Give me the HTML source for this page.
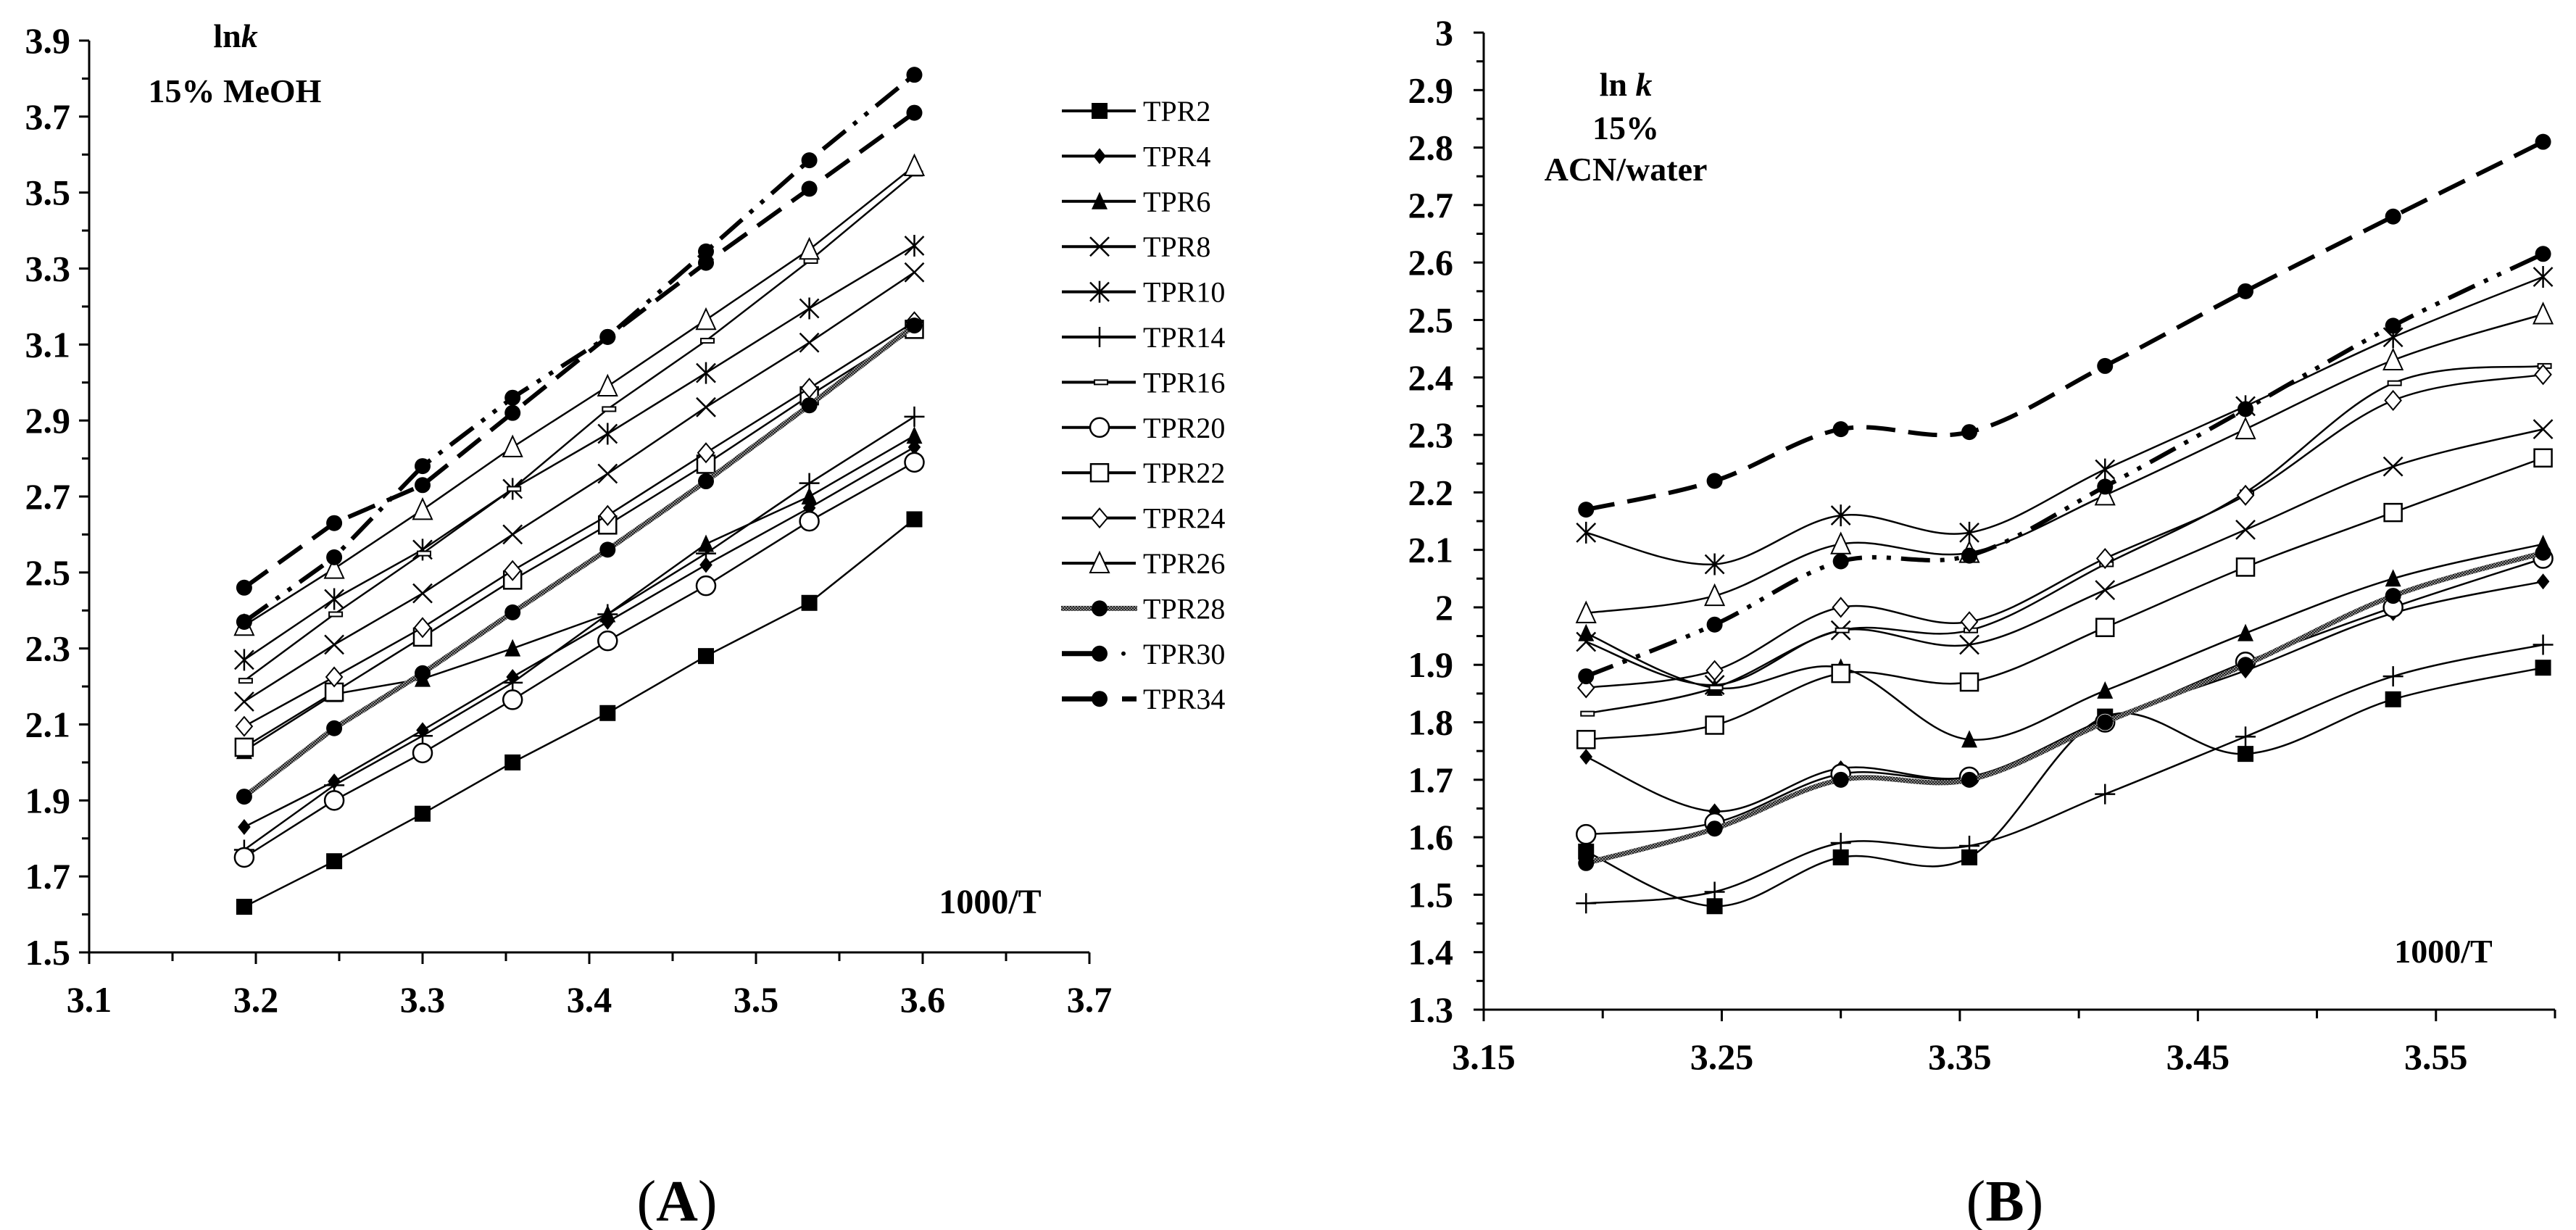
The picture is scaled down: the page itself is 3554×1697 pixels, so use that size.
<!DOCTYPE html>
<html><head><meta charset="utf-8"><style>
html,body{margin:0;padding:0;background:#fff;}
svg{display:block;}
text{font-family:"Liberation Serif",serif;}
</style></head><body>
<svg id="chart" width="3554" height="1697" viewBox="0 0 3554 1697" xmlns="http://www.w3.org/2000/svg">
<defs>
<pattern id="hatch" width="4" height="4" patternUnits="userSpaceOnUse"><rect width="4" height="4" fill="#888"/><rect width="2" height="2" fill="#222"/><rect x="2" y="2" width="2" height="2" fill="#222"/></pattern>
</defs>
<g id="panelA"></g>
<g id="panelB"></g>
<g id="legend"></g>
<text x="325" y="65" font-size="46" font-weight="bold" text-anchor="middle">ln<tspan font-style="italic">k</tspan></text>
<text x="324" y="141" font-size="46" font-weight="bold" text-anchor="middle">15% MeOH</text>
<text x="1366" y="1260" font-size="48" font-weight="bold" text-anchor="middle">1000/T</text>
<text x="2243" y="132" font-size="46" font-weight="bold" text-anchor="middle">ln <tspan font-style="italic">k</tspan></text>
<text x="2243" y="192" font-size="46" font-weight="bold" text-anchor="middle">15%</text>
<text x="2243" y="249" font-size="46" font-weight="bold" text-anchor="middle">ACN/water</text>
<text x="3371" y="1328" font-size="46" font-weight="bold" text-anchor="middle">1000/T</text>
<text x="934" y="1684" font-size="80" text-anchor="middle">(<tspan font-weight="bold">A</tspan>)</text>
<text x="2766" y="1684" font-size="80" text-anchor="middle">(<tspan font-weight="bold">B</tspan>)</text>
</svg>
<script>
const NS="http://www.w3.org/2000/svg";
const xVals=[3.193,3.247,3.300,3.354,3.411,3.470,3.532,3.595];
const seriesNames=["TPR2","TPR4","TPR6","TPR8","TPR10","TPR14","TPR16","TPR20","TPR22","TPR24","TPR26","TPR28","TPR30","TPR34"];
const markers=["square","diamond","triangle","x","star","plus","dash","circle","osquare","odiamond","otriangle","dot","dot","dot"];
// Panel A values (15% MeOH)
const aTPR2=[1.62,1.74,1.865,2.00,2.13,2.28,2.42,2.64];
const aTPR4=[1.83,1.95,2.085,2.225,2.37,2.52,2.67,2.83];
const aTPR6=[2.03,2.18,2.22,2.30,2.39,2.575,2.70,2.86];
const aTPR8=[2.16,2.31,2.445,2.60,2.76,2.935,3.105,3.29];
const aTPR10=[2.27,2.43,2.56,2.72,2.865,3.025,3.195,3.36];
const aTPR14=[1.77,1.94,2.07,2.21,2.39,2.55,2.735,2.91];
const aTPR16=[2.215,2.39,2.55,2.72,2.93,3.11,3.32,3.55];
const aTPR20=[1.75,1.90,2.025,2.165,2.32,2.465,2.635,2.79];
const aTPR22=[2.04,2.185,2.33,2.48,2.625,2.785,2.965,3.14];
const aTPR24=[2.095,2.225,2.355,2.505,2.65,2.815,2.985,3.16];
const aTPR26=[2.36,2.51,2.665,2.83,2.99,3.165,3.35,3.57];
const aTPR28=[1.91,2.09,2.235,2.395,2.56,2.74,2.94,3.15];
const aTPR30=[2.37,2.54,2.78,2.96,3.12,3.345,3.585,3.81];
const aTPR34=[2.46,2.63,2.73,2.92,3.12,3.315,3.51,3.71];
// Panel B values (15% ACN/water)
const bTPR2=[1.575,1.48,1.565,1.565,1.81,1.745,1.84,1.895];
const bTPR4=[1.74,1.645,1.72,1.705,1.805,1.89,1.99,2.045];
const bTPR6=[1.955,1.86,1.895,1.77,1.855,1.955,2.05,2.11];
const bTPR8=[1.94,1.865,1.96,1.935,2.03,2.135,2.245,2.31];
const bTPR10=[2.13,2.075,2.16,2.13,2.24,2.35,2.47,2.575];
const bTPR14=[1.485,1.505,1.59,1.585,1.675,1.775,1.88,1.935];
const bTPR16=[1.815,1.86,1.96,1.96,2.075,2.20,2.39,2.42];
const bTPR20=[1.605,1.625,1.71,1.705,1.80,1.905,2.00,2.085];
const bTPR22=[1.77,1.795,1.885,1.87,1.965,2.07,2.165,2.26];
const bTPR24=[1.86,1.89,2.00,1.975,2.085,2.195,2.36,2.405];
const bTPR26=[1.99,2.02,2.11,2.095,2.195,2.31,2.43,2.51];
const bTPR28=[1.555,1.615,1.70,1.70,1.80,1.90,2.02,2.095];
const bTPR30=[1.88,1.97,2.08,2.09,2.21,2.345,2.49,2.615];
const bTPR34=[2.17,2.22,2.31,2.305,2.42,2.55,2.68,2.81];
const aTicksX=["3.1","3.2","3.3","3.4","3.5","3.6","3.7"];
const aTicksY=["1.5","1.7","1.9","2.1","2.3","2.5","2.7","2.9","3.1","3.3","3.5","3.7","3.9"];
const bTicksX=["3.15","3.25","3.35","3.45","3.55"];
const bTicksY=["1.3","1.4","1.5","1.6","1.7","1.8","1.9","2","2.1","2.2","2.3","2.4","2.5","2.6","2.7","2.8","2.9","3"];

const A=[aTPR2,aTPR4,aTPR6,aTPR8,aTPR10,aTPR14,aTPR16,aTPR20,aTPR22,aTPR24,aTPR26,aTPR28,aTPR30,aTPR34];
const B=[bTPR2,bTPR4,bTPR6,bTPR8,bTPR10,bTPR14,bTPR16,bTPR20,bTPR22,bTPR24,bTPR26,bTPR28,bTPR30,bTPR34];

function el(tag,attrs,parent){const e=document.createElementNS(NS,tag);for(const k in attrs)e.setAttribute(k,attrs[k]);parent.appendChild(e);return e;}

const axA={x0:3.1,x1:3.7,px0:123,px1:1503,y0:1.5,y1:3.9,py0:1314,py1:56};
const axB={x0:3.15,x1:3.60,px0:2047,px1:3525,y0:1.3,y1:3.0,py0:1393,py1:45};
function sx(ax,v){return ax.px0+(v-ax.x0)/(ax.x1-ax.x0)*(ax.px1-ax.px0);}
function sy(ax,v){return ax.py0+(v-ax.y0)/(ax.y1-ax.y0)*(ax.py1-ax.py0);}

function drawMarker(g,type,x,y,s){
  let m;
  const k=s/2;
  if(type==="square"){m=el("rect",{x:x-k,y:y-k,width:s,height:s,fill:"#000"},g);}
  else if(type==="osquare"){m=el("rect",{x:x-k-1,y:y-k-1,width:s+2,height:s+2,fill:"#fff",stroke:"#000","stroke-width":2.5},g);}
  else if(type==="diamond"){m=el("polygon",{points:`${x},${y-k} ${x+k*0.8},${y} ${x},${y+k} ${x-k*0.8},${y}`,fill:"#000"},g);}
  else if(type==="odiamond"){m=el("polygon",{points:`${x},${y-k-2} ${x+k},${y} ${x},${y+k+2} ${x-k},${y}`,fill:"#fff",stroke:"#000","stroke-width":2},g);}
  else if(type==="triangle"){m=el("polygon",{points:`${x},${y-k-2} ${x+k},${y+k} ${x-k},${y+k}`,fill:"#000"},g);}
  else if(type==="otriangle"){m=el("polygon",{points:`${x},${y-k-4} ${x+k+2},${y+k+2} ${x-k-2},${y+k+2}`,fill:"#fff",stroke:"#000","stroke-width":2},g);}
  else if(type==="x"){m=el("path",{d:`M${x-k-2},${y-k-2}L${x+k+2},${y+k+2}M${x-k-2},${y+k+2}L${x+k+2},${y-k-2}`,stroke:"#000","stroke-width":2.5,fill:"none"},g);}
  else if(type==="star"){m=el("path",{d:`M${x-k-2},${y-k-2}L${x+k+2},${y+k+2}M${x-k-2},${y+k+2}L${x+k+2},${y-k-2}M${x},${y-k-4}L${x},${y+k+4}`,stroke:"#000","stroke-width":2.5,fill:"none"},g);}
  else if(type==="plus"){m=el("path",{d:`M${x-k-3},${y}L${x+k+3},${y}M${x},${y-k-3}L${x},${y+k+3}`,stroke:"#000","stroke-width":2.5,fill:"none"},g);}
  else if(type==="dash"){m=el("rect",{x:x-k+4,y:y-3,width:s-4,height:6,fill:"#fff",stroke:"#000","stroke-width":2},g);}
  else if(type==="circle"){m=el("circle",{cx:x,cy:y,r:k+2,fill:"#fff",stroke:"#000","stroke-width":2.5},g);}
  else {m=el("circle",{cx:x,cy:y,r:k,fill:"#000"},g);}
  return m;
}
function lineStyle(i){
  if(i===11) return {stroke:"url(#hatch)","stroke-width":7};
  if(i===12) return {stroke:"#000","stroke-width":6,"stroke-dasharray":"40 14 6 14 6 14"};
  if(i===13) return {stroke:"#000","stroke-width":6,"stroke-dasharray":"40 18"};
  return {stroke:"#000","stroke-width":2.5};
}
function smoothPath(pts){
  let d=`M${pts[0][0]},${pts[0][1]}`;
  const t=0.17;
  for(let i=0;i<pts.length-1;i++){
    const p0=pts[Math.max(0,i-1)],p1=pts[i],p2=pts[i+1],p3=pts[Math.min(pts.length-1,i+2)];
    const c1=[p1[0]+(p2[0]-p0[0])*t, p1[1]+(p2[1]-p0[1])*t];
    const c2=[p2[0]-(p3[0]-p1[0])*t, p2[1]-(p3[1]-p1[1])*t];
    d+=`C${c1[0].toFixed(1)},${c1[1].toFixed(1)} ${c2[0].toFixed(1)},${c2[1].toFixed(1)} ${p2[0].toFixed(1)},${p2[1].toFixed(1)}`;
  }
  return d;
}
function drawAxes(g,ax,xt,yt,xstep,ystep,minorX,minorY,labelRight,name){
  const ag=el("g",{},g);
  
  
  el("line",{x1:ax.px0,y1:ax.py0,x2:ax.px1,y2:ax.py0,stroke:"#000","stroke-width":3},ag);
  el("line",{x1:ax.px0,y1:ax.py0,x2:ax.px0,y2:ax.py1,stroke:"#000","stroke-width":3},ag);
  xt.forEach((lab,i)=>{
    const v=ax.x0+i*xstep, px=sx(ax,v);
    el("line",{x1:px,y1:ax.py0,x2:px,y2:ax.py0+16,stroke:"#000","stroke-width":3},ag);
    const t=el("text",{x:px,y:ax.py0+82,"font-size":50,"font-weight":"bold","text-anchor":"middle"},ag);
    t.textContent=lab;
    
    
  });
  for(let v=ax.x0+minorX; v<ax.x1+1e-6; v+=xstep){
    const px=sx(ax,v);
    el("line",{x1:px,y1:ax.py0,x2:px,y2:ax.py0+12,stroke:"#000","stroke-width":3},ag);
  }
  yt.forEach((lab,i)=>{
    const v=ax.y0+i*ystep, py=sy(ax,v);
    el("line",{x1:ax.px0-14,y1:py,x2:ax.px0,y2:py,stroke:"#000","stroke-width":3},ag);
    const t=el("text",{x:labelRight,y:py+17,"font-size":50,"font-weight":"bold","text-anchor":"end"},ag);
    t.textContent=lab;
    
    
  });
  for(let v=ax.y0+minorY; v<ax.y1; v+=ystep){
    const py=sy(ax,v);
    el("line",{x1:ax.px0-10,y1:py,x2:ax.px0,y2:py,stroke:"#000","stroke-width":3},ag);
  }
}
function drawPanel(g,ax,data,smooth,msize,name){
  data.forEach((vals,i)=>{
    const sg=el("g",{},g);
    
    
    const pts=vals.map((v,j)=>[sx(ax,xVals[j]),sy(ax,v)]);
    const d=smooth?smoothPath(pts):"M"+pts.map(p=>p[0].toFixed(1)+","+p[1].toFixed(1)).join("L");
    const st=lineStyle(i);
    const p=el("path",Object.assign({d:d,fill:"none","stroke-linejoin":"round"},st),sg);
    
    
    pts.forEach(pt=>{
      const m=drawMarker(sg,markers[i],pt[0],pt[1],msize);
      
      
    });
  });
}
const gA=document.getElementById("panelA"), gB=document.getElementById("panelB");
drawAxes(gA,axA,aTicksX,aTicksY,0.1,0.2,0.05,0.1,97,"panel-a");
drawAxes(gB,axB,bTicksX,bTicksY,0.1,0.1,0.05,0.05,2005,"panel-b");
drawPanel(gA,axA,A,false,22,"panel-a");
drawPanel(gB,axB,B,true,22,"panel-b");

const lg=document.getElementById("legend");
seriesNames.forEach((n,i)=>{
  const y=153+i*62.4;
  const eg=el("g",{},lg);
  
  
  if(i===12){
    el("line",{x1:1465,y1:y,x2:1517,y2:y,stroke:"#000","stroke-width":7},eg);
    el("circle",{cx:1550,cy:y,r:3,fill:"#000"},eg);
  } else if(i===13){
    el("line",{x1:1465,y1:y,x2:1517,y2:y,stroke:"#000","stroke-width":7},eg);
    el("line",{x1:1548,y1:y,x2:1568,y2:y,stroke:"#000","stroke-width":7},eg);
  } else if(i===11){
    el("line",{x1:1464,y1:y,x2:1569,y2:y,stroke:"url(#hatch)","stroke-width":7},eg);
  } else {
    el("line",{x1:1465,y1:y,x2:1567,y2:y,stroke:"#000","stroke-width":4},eg);
  }
  drawMarker(eg,markers[i],1517,y,22);
  const t=el("text",{x:1577,y:y+14,"font-size":40},eg);
  t.textContent=n;
});
</script>
</body></html>
